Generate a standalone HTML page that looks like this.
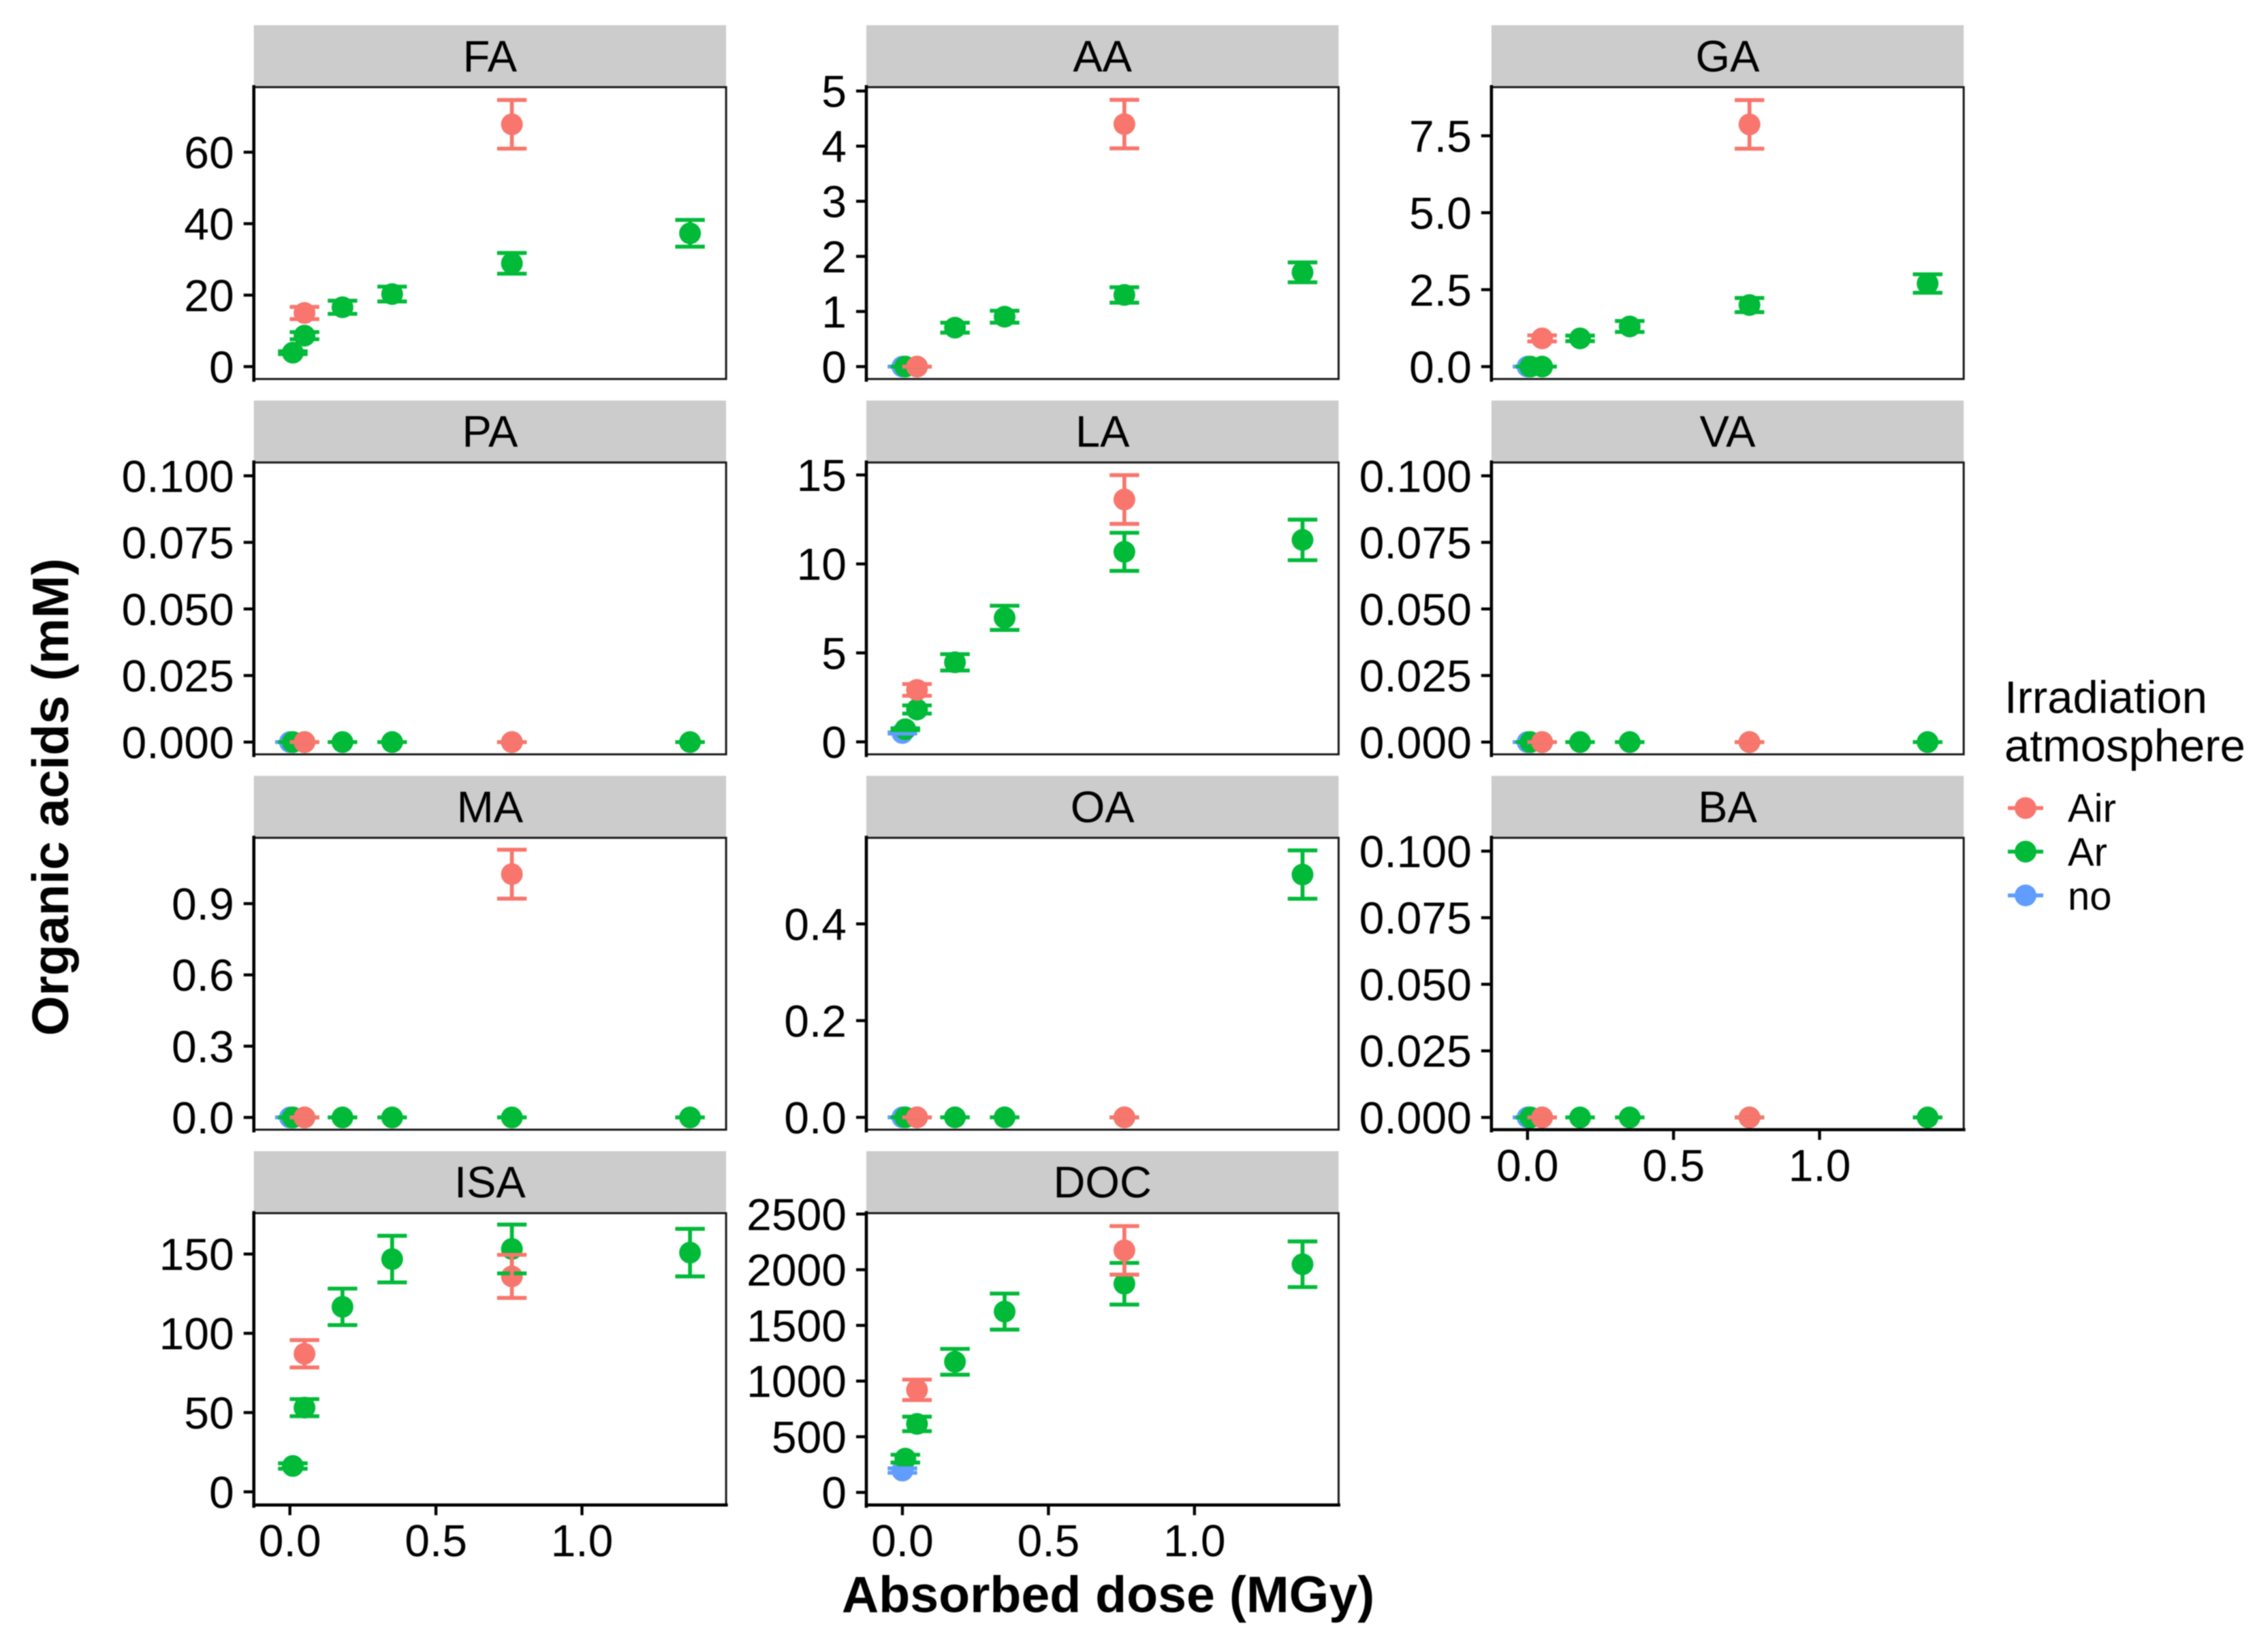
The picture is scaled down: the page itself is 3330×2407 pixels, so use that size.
<!DOCTYPE html>
<html lang="en">
<head>
<meta charset="utf-8">
<title>Organic acids vs absorbed dose</title>
<style>
  html, body { margin: 0; padding: 0; background: #fff; }
  svg { display: block; filter: blur(0.8px); }
  text { font-family: "Liberation Sans", Arial, sans-serif; fill: #000; }
  .tick-label { font-size: 66px; }
  .strip-label { font-size: 65px; }
  .x-title { font-size: 75.3px; font-weight: 700; }
  .y-title { font-size: 75.6px; font-weight: 700; }
  .legend-title { font-size: 67px; }
  .legend-label { font-size: 58px; }
</style>
</head>
<body>
<svg id="chart" xmlns="http://www.w3.org/2000/svg" width="3330" height="2407" viewBox="0 0 3330 2407">
  <rect x="0" y="0" width="3330" height="2407" fill="#ffffff"/>
  <g id="panels"></g>
  <text class="x-title" x="1627" y="2367.5" text-anchor="middle">Absorbed dose (MGy)</text>
  <text class="y-title" transform="translate(100,1170.5) rotate(-90)" text-anchor="middle">Organic acids (mM)</text>
  <g>
    <text class="legend-title" x="2943" y="1047">Irradiation</text>
    <text class="legend-title" x="2943" y="1118">atmosphere</text>
    <g>
      <line x1="2948" x2="3000" y1="1186.7" y2="1186.7" stroke="#F8766D" stroke-width="5.7"/>
      <circle cx="2974" cy="1186.7" r="16" fill="#F8766D"/>
      <text class="legend-label" x="3036" y="1207">Air</text>
    </g>
    <g>
      <line x1="2948" x2="3000" y1="1250.7" y2="1250.7" stroke="#00BA38" stroke-width="5.7"/>
      <circle cx="2974" cy="1250.7" r="16" fill="#00BA38"/>
      <text class="legend-label" x="3036" y="1271.5">Ar</text>
    </g>
    <g>
      <line x1="2948" x2="3000" y1="1315" y2="1315" stroke="#619CFF" stroke-width="5.7"/>
      <circle cx="2974" cy="1315" r="16" fill="#619CFF"/>
      <text class="legend-label" x="3036" y="1336">no</text>
    </g>
  </g>
</svg>
<script>
// ---------- Shared x categories (absorbed dose, MGy) ----------
const dosesAir = [0.05, 0.76];
const dosesAr = [0.01, 0.05, 0.18, 0.35, 0.76, 1.37];
const dosesNo = [0];
const xDomain = [-0.1235, 1.4935];
const xTicks = [0, 0.5, 1];
const xTickLabels = ['0.0', '0.5', '1.0'];

// ---------- FA ----------
const FA_air = [15.0, 67.8];
const FA_air_err = [1.7, 6.8];
const FA_ar = [3.9, 8.66, 16.6, 20.3, 28.9, 37.3];
const FA_ar_err = [0.4, 1.0, 1.84, 2.08, 2.9, 3.74];
const FA_no = [];
const FA_no_err = [];
const FA_domain = [-3.47, 78.2];
const FA_ticks = [0, 20, 40, 60];
const FA_labels = ['0', '20', '40', '60'];

// ---------- AA ----------
const AA_air = [0, 4.40];
const AA_air_err = [0, 0.44];
const AA_ar = [0, 0, 0.706, 0.905, 1.30, 1.71];
const AA_ar_err = [0, 0, 0.09, 0.108, 0.14, 0.18];
const AA_no = [0];
const AA_no_err = [0];
const AA_domain = [-0.225, 5.07];
const AA_ticks = [0, 1, 2, 3, 4, 5];
const AA_labels = ['0', '1', '2', '3', '4', '5'];

// ---------- GA ----------
const GA_air = [0.917, 7.87];
const GA_air_err = [0.1, 0.79];
const GA_ar = [0, 0, 0.917, 1.304, 2.0, 2.70];
const GA_ar_err = [0, 0, 0.09, 0.178, 0.23, 0.3];
const GA_no = [0];
const GA_no_err = [0];
const GA_domain = [-0.403, 9.08];
const GA_ticks = [0, 2.5, 5, 7.5];
const GA_labels = ['0.0', '2.5', '5.0', '7.5'];

// ---------- PA ----------
const PA_air = [0, 0];
const PA_air_err = [0, 0];
const PA_ar = [0, 0, 0, 0, 0, 0];
const PA_ar_err = [0, 0, 0, 0, 0, 0];
const PA_no = [0];
const PA_no_err = [0];
const PA_domain = [-0.0046, 0.105];
const PA_ticks = [0, 0.025, 0.05, 0.075, 0.1];
const PA_labels = ['0.000', '0.025', '0.050', '0.075', '0.100'];

// ---------- LA ----------
const LA_air = [2.92, 13.62];
const LA_air_err = [0.33, 1.37];
const LA_ar = [0.71, 1.82, 4.47, 6.97, 10.68, 11.35];
const LA_ar_err = [0.05, 0.23, 0.46, 0.68, 1.07, 1.14];
const LA_no = [0.5];
const LA_no_err = [0.03];
const LA_domain = [-0.70, 15.70];
const LA_ticks = [0, 5, 10, 15];
const LA_labels = ['0', '5', '10', '15'];

// ---------- VA ----------
const VA_air = [0, 0];
const VA_air_err = [0, 0];
const VA_ar = [0, 0, 0, 0, 0, 0];
const VA_ar_err = [0, 0, 0, 0, 0, 0];
const VA_no = [0];
const VA_no_err = [0];
const VA_domain = [-0.0046, 0.105];
const VA_ticks = [0, 0.025, 0.05, 0.075, 0.1];
const VA_labels = ['0.000', '0.025', '0.050', '0.075', '0.100'];

// ---------- MA ----------
const MA_air = [0, 1.024];
const MA_air_err = [0, 0.103];
const MA_ar = [0, 0, 0, 0, 0, 0];
const MA_ar_err = [0, 0, 0, 0, 0, 0];
const MA_no = [0];
const MA_no_err = [0];
const MA_domain = [-0.0515, 1.177];
const MA_ticks = [0, 0.3, 0.6, 0.9];
const MA_labels = ['0.0', '0.3', '0.6', '0.9'];

// ---------- OA ----------
const OA_air = [0, 0];
const OA_air_err = [0, 0];
const OA_ar = [0, 0, 0, 0, 0, 0.502];
const OA_ar_err = [0, 0, 0, 0, 0, 0.05];
const OA_no = [0];
const OA_no_err = [0];
const OA_domain = [-0.0255, 0.578];
const OA_ticks = [0, 0.2, 0.4];
const OA_labels = ['0.0', '0.2', '0.4'];

// ---------- BA ----------
const BA_air = [0, 0];
const BA_air_err = [0, 0];
const BA_ar = [0, 0, 0, 0, 0, 0];
const BA_ar_err = [0, 0, 0, 0, 0, 0];
const BA_no = [0];
const BA_no_err = [0];
const BA_domain = [-0.0046, 0.105];
const BA_ticks = [0, 0.025, 0.05, 0.075, 0.1];
const BA_labels = ['0.000', '0.025', '0.050', '0.075', '0.100'];

// ---------- ISA ----------
const ISA_air = [87.1, 135.9];
const ISA_air_err = [8.65, 13.6];
const ISA_ar = [16.3, 53.1, 116.7, 146.8, 153.2, 150.9];
const ISA_ar_err = [1.7, 5.4, 11.5, 14.7, 15.4, 15.0];
const ISA_no = [];
const ISA_no_err = [];
const ISA_domain = [-8.3, 175.8];
const ISA_ticks = [0, 50, 100, 150];
const ISA_labels = ['0', '50', '100', '150'];

// ---------- DOC ----------
const DOC_air = [921, 2174];
const DOC_air_err = [92, 218];
const DOC_ar = [303, 615, 1173, 1624, 1874, 2049];
const DOC_ar_err = [35, 65, 116, 162, 187, 205];
const DOC_no = [196];
const DOC_no_err = [20];
const DOC_domain = [-113, 2508];
const DOC_ticks = [0, 500, 1000, 1500, 2000, 2500];
const DOC_labels = ['0', '500', '1000', '1500', '2000', '2500'];

// ---------- Facet wiring ----------
const panelList = [
  { name: 'FA',  row: 0, col: 0, xAxis: false, air: FA_air,  airErr: FA_air_err,  ar: FA_ar,  arErr: FA_ar_err,  no: FA_no,  noErr: FA_no_err,  domain: FA_domain,  ticks: FA_ticks,  labels: FA_labels },
  { name: 'AA',  row: 0, col: 1, xAxis: false, air: AA_air,  airErr: AA_air_err,  ar: AA_ar,  arErr: AA_ar_err,  no: AA_no,  noErr: AA_no_err,  domain: AA_domain,  ticks: AA_ticks,  labels: AA_labels },
  { name: 'GA',  row: 0, col: 2, xAxis: false, air: GA_air,  airErr: GA_air_err,  ar: GA_ar,  arErr: GA_ar_err,  no: GA_no,  noErr: GA_no_err,  domain: GA_domain,  ticks: GA_ticks,  labels: GA_labels },
  { name: 'PA',  row: 1, col: 0, xAxis: false, air: PA_air,  airErr: PA_air_err,  ar: PA_ar,  arErr: PA_ar_err,  no: PA_no,  noErr: PA_no_err,  domain: PA_domain,  ticks: PA_ticks,  labels: PA_labels },
  { name: 'LA',  row: 1, col: 1, xAxis: false, air: LA_air,  airErr: LA_air_err,  ar: LA_ar,  arErr: LA_ar_err,  no: LA_no,  noErr: LA_no_err,  domain: LA_domain,  ticks: LA_ticks,  labels: LA_labels },
  { name: 'VA',  row: 1, col: 2, xAxis: false, air: VA_air,  airErr: VA_air_err,  ar: VA_ar,  arErr: VA_ar_err,  no: VA_no,  noErr: VA_no_err,  domain: VA_domain,  ticks: VA_ticks,  labels: VA_labels },
  { name: 'MA',  row: 2, col: 0, xAxis: false, air: MA_air,  airErr: MA_air_err,  ar: MA_ar,  arErr: MA_ar_err,  no: MA_no,  noErr: MA_no_err,  domain: MA_domain,  ticks: MA_ticks,  labels: MA_labels },
  { name: 'OA',  row: 2, col: 1, xAxis: false, air: OA_air,  airErr: OA_air_err,  ar: OA_ar,  arErr: OA_ar_err,  no: OA_no,  noErr: OA_no_err,  domain: OA_domain,  ticks: OA_ticks,  labels: OA_labels },
  { name: 'BA',  row: 2, col: 2, xAxis: true,  air: BA_air,  airErr: BA_air_err,  ar: BA_ar,  arErr: BA_ar_err,  no: BA_no,  noErr: BA_no_err,  domain: BA_domain,  ticks: BA_ticks,  labels: BA_labels },
  { name: 'ISA', row: 3, col: 0, xAxis: true,  air: ISA_air, airErr: ISA_air_err, ar: ISA_ar, arErr: ISA_ar_err, no: ISA_no, noErr: ISA_no_err, domain: ISA_domain, ticks: ISA_ticks, labels: ISA_labels },
  { name: 'DOC', row: 3, col: 1, xAxis: true,  air: DOC_air, airErr: DOC_air_err, ar: DOC_ar, arErr: DOC_ar_err, no: DOC_no, noErr: DOC_no_err, domain: DOC_domain, ticks: DOC_ticks, labels: DOC_labels }
];

const colourAir = '#F8766D';
const colourAr = '#00BA38';
const colourNo = '#619CFF';

// ---------- Layout constants ----------
const PANEL_WIDTH = 693.4;
const PANEL_HEIGHT = 428.6;
const STRIP_HEIGHT = 91;
const ROW_ORIGIN = 128;
const ROW_STEP = 551.2;
const COL_ORIGINS = { 0: 372.7, 1: 1272, 2: 2189.8 };
const POINT_RADIUS = 16;
const CAP_HALF_WIDTH = 21.7;
const MARK_STROKE = 5.7;

const SVG_NS = 'http://www.w3.org/2000/svg';
const root = document.getElementById('panels');

function make(tag, attrs, parent, text) {
  const el = document.createElementNS(SVG_NS, tag);
  for (const key in attrs) el.setAttribute(key, attrs[key]);
  if (text !== undefined) el.textContent = text;
  parent.appendChild(el);
  return el;
}

function linearScale(domain, range) {
  return function (v) {
    return range[0] + (v - domain[0]) / (domain[1] - domain[0]) * (range[1] - range[0]);
  };
}

function drawPoints(group, slug, seriesName, doses, values, colour, xScale, yScale) {
  values.forEach(function (value, i) {
    const point = make('circle', { cx: xScale(doses[i]), cy: yScale(value), r: POINT_RADIUS, fill: colour }, group);
    
    
  });
}

function drawErrorBars(group, slug, seriesName, doses, values, errors, colour, xScale, yScale) {
  values.forEach(function (value, i) {
    const cx = xScale(doses[i]);
    const yHigh = yScale(value + errors[i]);
    const yLow = yScale(value - errors[i]);
    const d = 'M' + (cx - CAP_HALF_WIDTH) + ' ' + yHigh + 'H' + (cx + CAP_HALF_WIDTH) +
      'M' + cx + ' ' + yHigh + 'V' + yLow +
      'M' + (cx - CAP_HALF_WIDTH) + ' ' + yLow + 'H' + (cx + CAP_HALF_WIDTH);
    const bar = make('path', { d: d, fill: 'none', stroke: colour, 'stroke-width': MARK_STROKE }, group);
    
    
  });
}

panelList.forEach(function (p) {
  const slug = p.name.toLowerCase();
  const left = COL_ORIGINS[p.col];
  const right = left + PANEL_WIDTH;
  const top = ROW_ORIGIN + ROW_STEP * p.row;
  const bottom = top + PANEL_HEIGHT;
  const xScale = linearScale(xDomain, [left, right]);
  const yScale = linearScale(p.domain, [bottom, top]);

  const group = make('g', {}, root);
  
  

  const strip = make('rect', { x: left, y: top - STRIP_HEIGHT, width: PANEL_WIDTH, height: STRIP_HEIGHT, fill: '#CCCCCC' }, group);
  
  

  const stripLabel = make('text', { x: left + PANEL_WIDTH / 2, y: top - STRIP_HEIGHT + 68, 'text-anchor': 'middle', class: 'strip-label' }, group, p.name);
  
  

  // points first (no, Ar, Air), then error bars in the same order
  drawPoints(group, slug, 'no', dosesNo, p.no, colourNo, xScale, yScale);
  drawPoints(group, slug, 'ar', dosesAr, p.ar, colourAr, xScale, yScale);
  drawPoints(group, slug, 'air', dosesAir, p.air, colourAir, xScale, yScale);
  drawErrorBars(group, slug, 'no', dosesNo, p.no, p.noErr, colourNo, xScale, yScale);
  drawErrorBars(group, slug, 'ar', dosesAr, p.ar, p.arErr, colourAr, xScale, yScale);
  drawErrorBars(group, slug, 'air', dosesAir, p.air, p.airErr, colourAir, xScale, yScale);

  const border = make('rect', { x: left, y: top, width: PANEL_WIDTH, height: PANEL_HEIGHT, fill: 'none', stroke: '#1a1a1a', 'stroke-width': 3 }, group);
  
  

  const yAxis = make('line', { x1: left, x2: left, y1: top - 3, y2: bottom + 4, stroke: '#000', 'stroke-width': 4.6 }, group);
  
  

  p.ticks.forEach(function (tick, i) {
    const y = yScale(tick);
    const mark = make('line', { x1: left - 15, x2: left, y1: y, y2: y, stroke: '#000', 'stroke-width': 4.4 }, group);
    
    
    const label = make('text', { x: left - 29, y: y + 23.5, 'text-anchor': 'end', class: 'tick-label' }, group, p.labels[i]);
    
    
  });

  if (p.xAxis) {
    const xAxis = make('line', { x1: left - 2.3, x2: right + 2.5, y1: bottom, y2: bottom, stroke: '#000', 'stroke-width': 4.6 }, group);
    
    

    xTicks.forEach(function (tick, i) {
      const x = xScale(tick);
      const mark = make('line', { x1: x, x2: x, y1: bottom, y2: bottom + 15, stroke: '#000', 'stroke-width': 4.4 }, group);
      
      
      const label = make('text', { x: x, y: bottom + 75.5, 'text-anchor': 'middle', class: 'tick-label' }, group, xTickLabels[i]);
      
      
    });
  }
});
</script>
</body>
</html>
